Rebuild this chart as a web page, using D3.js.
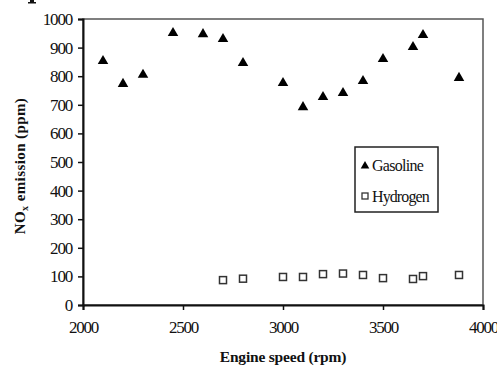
<!DOCTYPE html>
<html>
<head>
<meta charset="utf-8">
<script src="https://cdn.jsdelivr.net/npm/d3@7"></script>
<style>
  body { margin: 0; background: #fff; }
  svg { display: block; }
  text { font-family: "Liberation Serif", "Times New Roman", serif; fill: #111; }
</style>
</head>
<body>
<div id="chart"></div>
<script>
const width = 497;
const height = 368;

// engine speed (rpm) and NOx (ppm)
const gasolineSpeed = [2100, 2200, 2300, 2450, 2600, 2700, 2800, 3000, 3100, 3200, 3300, 3400, 3500, 3650, 3700, 3880];
const gasolineNox = [853, 773, 805, 951, 947, 930, 846, 776, 692, 727, 741, 783, 860, 902, 944, 794];
const hydrogenSpeed = [2700, 2800, 3000, 3100, 3200, 3300, 3400, 3500, 3650, 3700, 3880];
const hydrogenNox = [87, 92, 98, 98, 108, 110, 105, 94, 91, 101, 105];
const xTicks = [2000, 2500, 3000, 3500, 4000];
const yTicks = [0, 100, 200, 300, 400, 500, 600, 700, 800, 900, 1000];

const margin = {top: 19, right: 14, bottom: 63, left: 83};

const svg = d3.select('#chart').append('svg')
    .attr('width', width)
    .attr('height', height);

const x = d3.scaleLinear().domain([2000, 4000]).range([margin.left, width - margin.right]);
const y = d3.scaleLinear().domain([0, 1000]).range([height - margin.bottom, margin.top]);

// bit of a cropped heading glyph left at the top edge
svg.append('path')
    .attr('d', 'M30,0 L34,0 L34,2 L36,2 L36,3.5 L28,3.5 L28,2 L30,2 Z')
    .attr('fill', '#111');

// plot frame (top / right in grey)
svg.append('rect')
    .attr('x', x(2000))
    .attr('y', y(1000))
    .attr('width', x(4000) - x(2000))
    .attr('height', y(0) - y(1000))
    .attr('fill', 'none')
    .attr('stroke', '#555')
    .attr('stroke-width', 1.5);

const xAxis = svg.append('g')
    .attr('transform', `translate(0,${y(0)})`)
    .call(d3.axisBottom(x).tickValues(xTicks).tickSize(5).tickPadding(11).tickFormat(d3.format('d')));

const yAxis = svg.append('g')
    .attr('transform', `translate(${x(2000)},0)`)
    .call(d3.axisLeft(y).tickValues(yTicks).tickSize(5).tickPadding(6).tickFormat(d3.format('d')));

[xAxis, yAxis].forEach(a => {
    a.select('.domain').attr('stroke', '#111').attr('stroke-width', 2);
    a.selectAll('.tick line').attr('stroke', '#111').attr('stroke-width', 1.5);
    a.selectAll('.tick text')
        .attr('font-family', '"Liberation Serif", serif')
        .attr('font-size', 17)
        .attr('fill', '#222')
        .attr('letter-spacing', -1.2);
});

// axis titles
svg.append('text')
    .attr('x', (x(2000) + x(4000)) / 2)
    .attr('y', 362)
    .attr('text-anchor', 'middle')
    .attr('font-size', 15.5)
    .attr('font-weight', 'bold')
    .attr('letter-spacing', -0.2)
    .text('Engine speed (rpm)');

const yTitle = svg.append('text')
    .attr('transform', `translate(25,${(y(0) + y(1000)) / 2 + 4}) rotate(-90)`)
    .attr('text-anchor', 'middle')
    .attr('font-size', 15)
    .attr('font-weight', 'bold')
    .attr('letter-spacing', 0.4);
yTitle.append('tspan').text('NO');
yTitle.append('tspan').attr('font-size', 10).attr('dy', 3).text('x');
yTitle.append('tspan').attr('dy', -3).text(' emission (ppm)');

// data
const triangle = d3.symbol().type(d3.symbolTriangle).size(48);

svg.append('g')
    .selectAll('path')
    .data(gasolineSpeed.map((s, i) => [s, gasolineNox[i]]))
    .join('path')
    .attr('d', triangle)
    .attr('transform', d => `translate(${x(d[0])},${y(d[1])})`)
    .attr('fill', '#000');

svg.append('g')
    .selectAll('rect')
    .data(hydrogenSpeed.map((s, i) => [s, hydrogenNox[i]]))
    .join('rect')
    .attr('x', d => x(d[0]) - 3.5)
    .attr('y', d => y(d[1]) - 3.5)
    .attr('width', 7)
    .attr('height', 7)
    .attr('fill', '#fff')
    .attr('stroke', '#333')
    .attr('stroke-width', 1.5);

// legend
const legend = svg.append('g').attr('transform', 'translate(355,147)');
legend.append('rect')
    .attr('width', 83)
    .attr('height', 65)
    .attr('fill', '#fff')
    .attr('stroke', '#222')
    .attr('stroke-width', 1.5);

legend.append('path')
    .attr('d', d3.symbol().type(d3.symbolTriangle).size(32))
    .attr('transform', 'translate(10,19)')
    .attr('fill', '#000');
legend.append('text')
    .attr('x', 17)
    .attr('y', 24)
    .attr('font-size', 16)
    .attr('letter-spacing', -0.7)
    .text('Gasoline');

legend.append('rect')
    .attr('x', 7)
    .attr('y', 46)
    .attr('width', 6)
    .attr('height', 6)
    .attr('fill', '#fff')
    .attr('stroke', '#333')
    .attr('stroke-width', 1.3);
legend.append('text')
    .attr('x', 17)
    .attr('y', 55)
    .attr('font-size', 16)
    .attr('letter-spacing', -0.9)
    .text('Hydrogen');
</script>
</body>
</html>
